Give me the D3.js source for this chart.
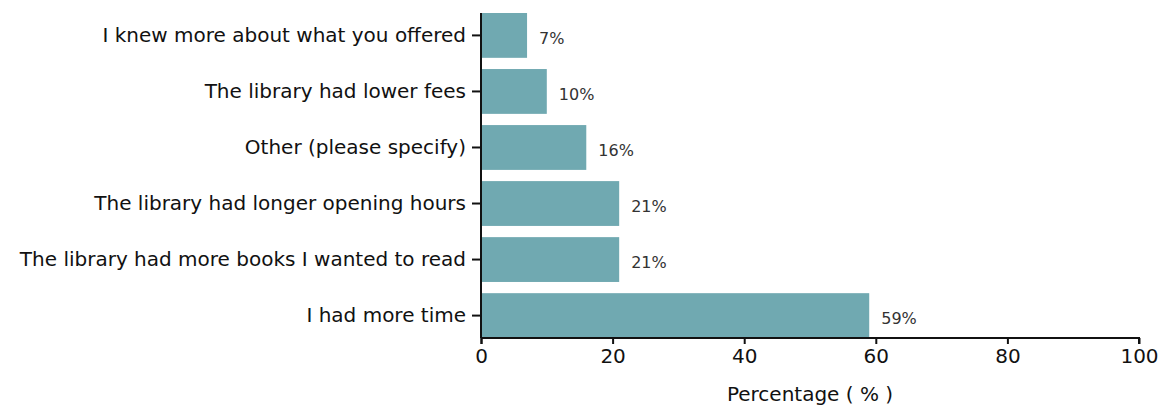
<!DOCTYPE html>
<html>
<head>
<meta charset="utf-8">
<script src="https://cdn.jsdelivr.net/npm/d3@7"></script>
<style>
  html, body { margin: 0; padding: 0; background: #fff; }
  svg { display: block; }
  text { font-family: "DejaVu Sans", Verdana, sans-serif; fill: #111; }
</style>
</head>
<body>
<svg id="chart" width="1162" height="405"></svg>
<script>
// Survey responses, top to bottom
const categories = [
  "I knew more about what you offered",
  "The library had lower fees",
  "Other (please specify)",
  "The library had longer opening hours",
  "The library had more books I wanted to read",
  "I had more time"
];
const percentages = [7, 10, 16, 21, 21, 59];
const xTicks = [0, 20, 40, 60, 80, 100];
const xTitle = "Percentage ( % )";

const svg = d3.select("#chart");
const margin = { top: 13, right: 23, bottom: 67, left: 481 };
const width = 1162 - margin.left - margin.right;
const height = 405 - margin.top - margin.bottom;

const g = svg.append("g").attr("transform", `translate(${margin.left},${margin.top})`);

const x = d3.scaleLinear().domain([0, 100]).range([0, width]);
const y = d3.scaleBand().domain(categories).range([0, height]).paddingInner(0.2).paddingOuter(0);

const rows = categories.map((c, i) => ({ c, v: percentages[i] }));

g.selectAll("rect.bar")
  .data(rows)
  .join("rect")
  .attr("class", "bar")
  .attr("x", 0)
  .attr("y", d => y(d.c))
  .attr("width", d => x(d.v))
  .attr("height", y.bandwidth())
  .attr("fill", "#70a9b1");

g.selectAll("text.val")
  .data(rows)
  .join("text")
  .attr("class", "val")
  .attr("x", d => x(d.v) + 12)
  .attr("y", d => y(d.c) + y.bandwidth() / 2 + 3)
  .attr("dy", "0.35em")
  .style("font-size", "16px")
  .style("fill", "#333")
  .text(d => d.v + "%");

// Axes
const xAxis = g.append("g")
  .attr("transform", `translate(0,${height})`)
  .call(d3.axisBottom(x).tickValues(xTicks).tickSize(6).tickPadding(5));
const yAxis = g.append("g")
  .call(d3.axisLeft(y).tickSize(9).tickPadding(6));

[xAxis, yAxis].forEach(a => {
  a.select(".domain").attr("stroke", "#111").attr("stroke-width", 2);
  a.selectAll(".tick line").attr("stroke", "#111").attr("stroke-width", 2);
  a.selectAll(".tick text").style("font-size", "20px").style("fill", "#111").attr("font-family", null);
});
xAxis.select(".domain").attr("d", `M0.5,6V0H${width}V6`);
yAxis.select(".domain").attr("d", `M0,0V${height}`);

g.append("text")
  .attr("x", width / 2)
  .attr("y", height + 63)
  .attr("text-anchor", "middle")
  .style("font-size", "20px")
  .text(xTitle);
</script>
</body>
</html>
